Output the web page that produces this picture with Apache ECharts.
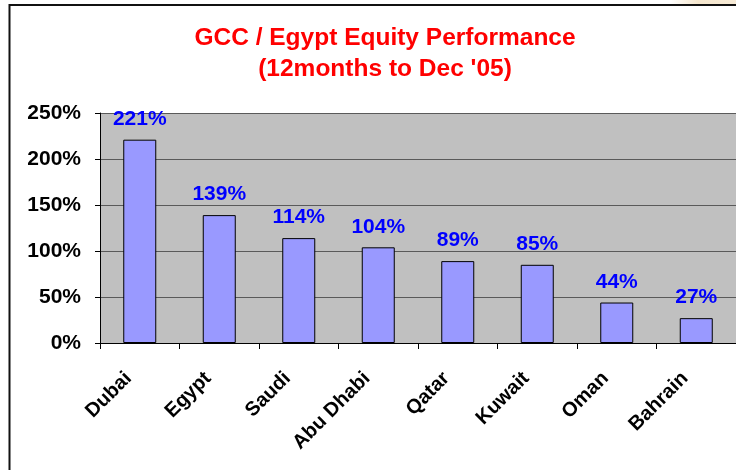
<!DOCTYPE html>
<html><head><meta charset="utf-8">
<script src="https://cdn.jsdelivr.net/npm/echarts@6/dist/echarts.min.js"></script>
<style>html,body{margin:0;padding:0;background:#fff;}#c{width:736px;height:470px;}</style>
</head><body><div id="c"></div>
<script>
const categories = ["Dubai","Egypt","Saudi","Abu Dhabi","Qatar","Kuwait","Oman","Bahrain"];
const values = [221,139,114,104,89,85,44,27];
const titleLines = ["GCC / Egypt Equity Performance","(12months to Dec '05)"];
const yTicks = [0,50,100,150,200,250];

const chart = echarts.init(document.getElementById('c'), null, {renderer:'canvas'});
const F = '"Liberation Sans", Arial, sans-serif';
chart.setOption({
  animation:false,
  backgroundColor:'#fff',
  title:{
    text: titleLines.join('\n'),
    left: 380, top: 18, textAlign:'center',
    textStyle:{color:'#ff0000', fontFamily:F, fontWeight:'bold', fontSize:24.5, lineHeight:31}
  },
  graphic:[
    {type:'rect', shape:{x:670,y:0,width:70,height:4}, style:{fill:{type:'linear',x:0,y:0,x2:1,y2:0,colorStops:[{offset:0,color:'rgba(245,230,205,0)'},{offset:0.4,color:'rgba(245,230,205,1)'},{offset:1,color:'rgba(247,235,215,1)'}]}}, z:-1},
    {type:'rect', shape:{x:9.5,y:5,width:800,height:600}, style:{fill:null, stroke:'#111', lineWidth:2}, z:10}
  ],
  grid:{left:100, top:113, width:640, height:230, backgroundColor:'#c0c0c0', show:true, borderWidth:0},
  xAxis:{
    type:'category', data:categories,
    axisLine:{lineStyle:{color:'#000', width:1}},
    axisTick:{show:true, alignWithLabel:false, length:6, lineStyle:{color:'#000'}},
    axisLabel:{rotate:45, margin:21, color:'#000', fontFamily:F, fontWeight:'bold', fontSize:20, interval:0, padding:[0,16,0,0]}
  },
  yAxis:{
    type:'value', min:yTicks[0], max:yTicks[yTicks.length-1], interval:50,
    axisLine:{show:true, lineStyle:{color:'#000'}},
    axisTick:{show:true, length:5, lineStyle:{color:'#000'}},
    axisLabel:{formatter:'{value}%', color:'#000', fontFamily:F, fontWeight:'bold', fontSize:21, margin:19},
    splitLine:{show:true, lineStyle:{color:'#5a5a5a', width:1}}
  },
  series:[{
    type:'bar', data:values, barWidth:33,
    itemStyle:{color:'#9999ff', borderColor:'#000', borderWidth:1},
    label:{show:true, position:'top', distance:10, formatter:'{c}%', color:'#0000ff', fontFamily:F, fontWeight:'bold', fontSize:21}
  }]
});
</script></body></html>
